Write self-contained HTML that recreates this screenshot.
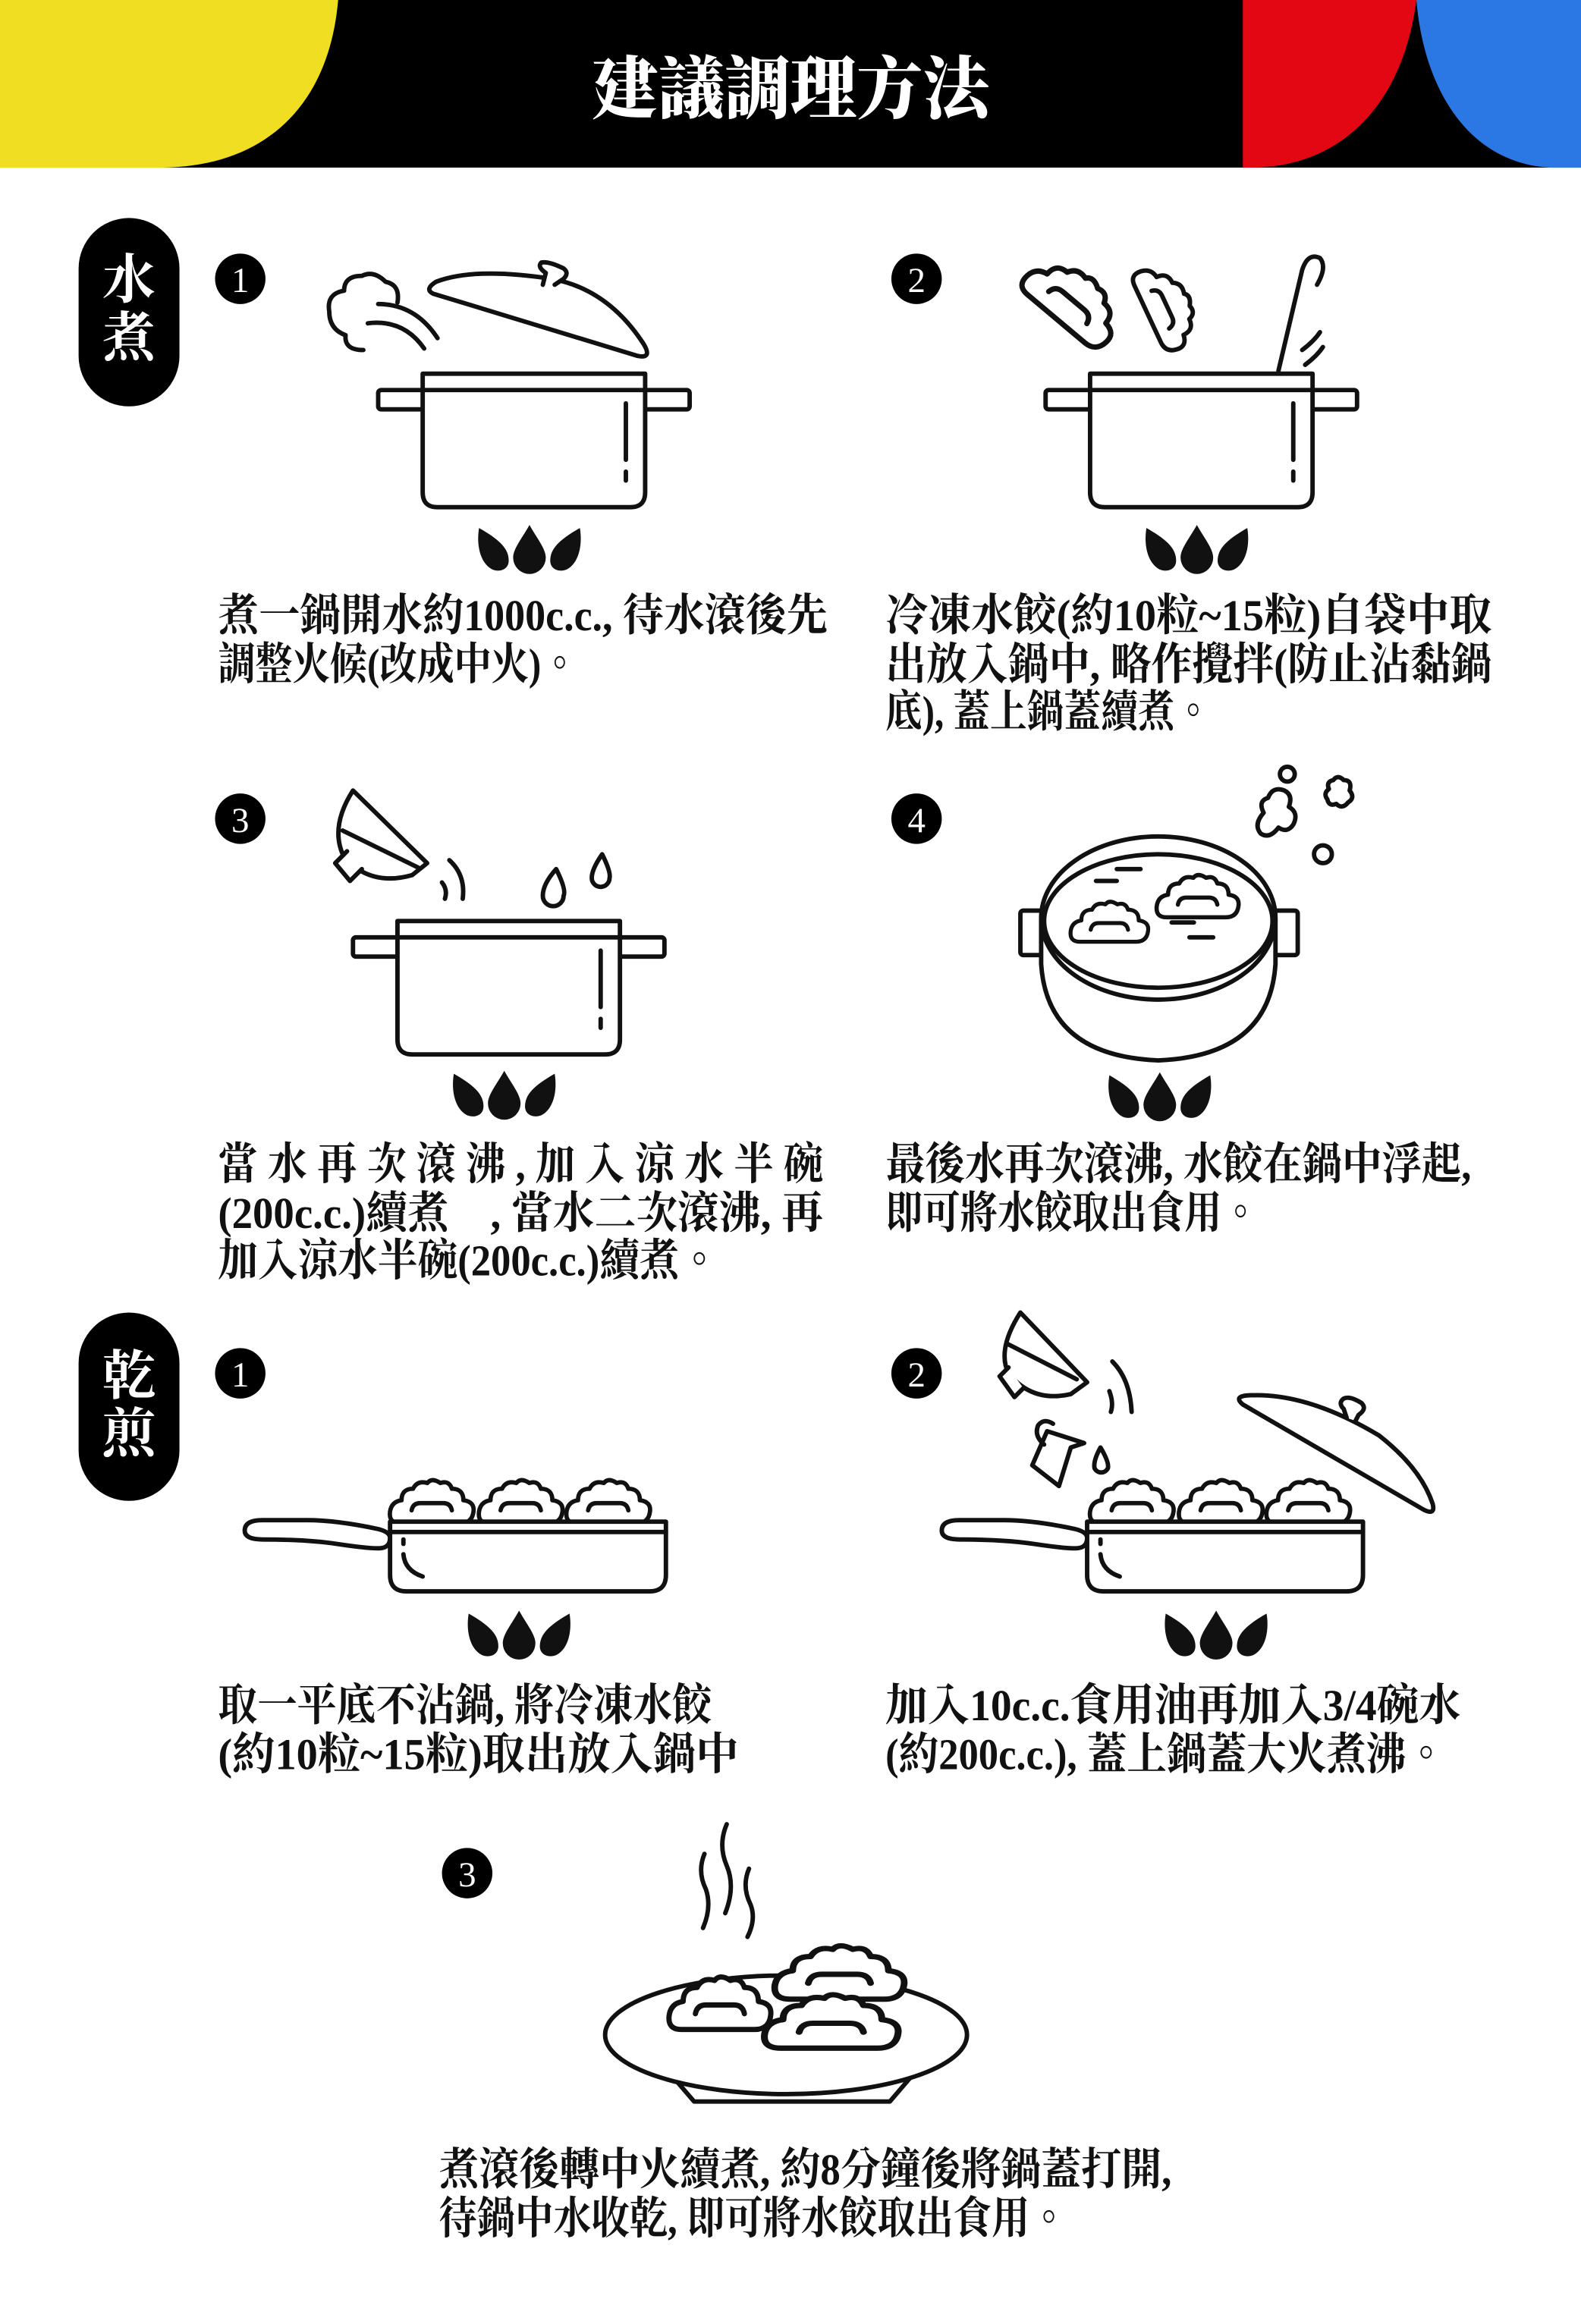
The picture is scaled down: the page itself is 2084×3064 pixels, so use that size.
<!DOCTYPE html>
<html><head><meta charset="utf-8"><style>
html,body{margin:0;padding:0;background:#fff;}
svg{display:block;}
.t{font-family:"Liberation Serif","Noto Serif CJK TC","Noto Serif CJK SC",serif;font-weight:bold;font-size:30px;fill:#111;}
.n{font-family:"Liberation Serif",serif;font-size:24px;fill:#fff;text-anchor:middle;}
.s{fill:none;stroke:#111;stroke-width:3;stroke-linecap:round;stroke-linejoin:round;}
.w{fill:#fff;stroke:#111;stroke-width:3;stroke-linecap:round;stroke-linejoin:round;}
</style></head><body>
<svg width="2084" height="3064" viewBox="0 0 1066 1567" preserveAspectRatio="none" xmlns="http://www.w3.org/2000/svg">
<defs>
<g id="dump">
<path class="w" d="M8,30 Q0,30 1,22 Q2,15 9,14 Q9,6 17,6 Q20,0 27,2 Q30,-2 36,2 Q42,0 44,6 Q52,6 52,14 Q60,15 59,22 Q58,30 50,30 Z"/>
<path class="s" d="M16,21 Q17,16 22,16 H38 Q43,16 44,21"/>
</g>
<g id="flame">
<path fill="#111" d="M-34,-12 C-20,-4 -14,2 -14,10 C-14,16 -20,18 -25,16 C-33,12 -36,0 -34,-12Z"/>
<path fill="#111" d="M0,-14 C5,-5 11,2 11,8 A11,11 0 0 1 -11,8 C-11,2 -5,-5 0,-14Z"/>
<path fill="#111" d="M34,-12 C20,-4 14,2 14,10 C14,16 20,18 25,16 C33,12 36,0 34,-12Z"/>
</g>
<g id="pot">
<rect class="w" x="0" y="11" width="210" height="13" rx="2"/>
<path class="w" d="M30,0 H180 V80 Q180,90 170,90 H40 Q30,90 30,80 Z"/>
<line class="s" x1="30" y1="11" x2="180" y2="11"/>
<line class="s" x1="167" y1="20" x2="167" y2="58"/>
<line class="s" x1="167" y1="66" x2="167" y2="72"/>
</g>
<g id="pan">
<path class="w" d="M10,-1 Q-2,-1 -2,6 Q-2,12 10,12 Q40,12 60,15 Q80,18 88,18 Q96,18 96,11 Q96,7 88,5 Q60,-1 40,-1 Z"/>
<path class="w" d="M96,0 H282 V36 Q282,47 271,47 H107 Q96,47 96,36 Z"/>
<line class="s" x1="96" y1="7" x2="282" y2="7"/>
<line class="s" x1="105" y1="12" x2="105" y2="15"/>
<path class="s" d="M105,22 Q106,33 118,37"/>
</g>
</defs>

<!-- header -->
<rect x="0" y="0" width="1066" height="113" fill="#000"/>
<path d="M0,0 H228 C222,70 180,112 110,113 H0 Z" fill="#f0de23"/>
<path d="M838,0 H955 C946,70 905,112 845,113 H838 Z" fill="#e30613"/>
<path d="M955,0 H1066 V113 H1045 C990,110 960,60 955,0 Z" fill="#2b78e4"/>
<text x="533" y="76" text-anchor="middle" textLength="268" lengthAdjust="spacingAndGlyphs" style="font-family:'Noto Serif CJK TC','Noto Serif CJK SC',serif;font-weight:900;font-size:46px;fill:#fff;">建議調理方法</text>

<!-- pills -->
<rect x="53" y="147" width="68" height="127" rx="34" fill="#000"/>
<text x="87" y="201" text-anchor="middle" style="font-family:'Noto Serif CJK TC',serif;font-weight:bold;font-size:36px;fill:#fff;">水</text>
<text x="87" y="240" text-anchor="middle" style="font-family:'Noto Serif CJK TC',serif;font-weight:bold;font-size:36px;fill:#fff;">煮</text>
<rect x="53" y="885" width="68" height="127" rx="34" fill="#000"/>
<text x="87" y="940" text-anchor="middle" style="font-family:'Noto Serif CJK TC',serif;font-weight:bold;font-size:36px;fill:#fff;">乾</text>
<text x="87" y="979" text-anchor="middle" style="font-family:'Noto Serif CJK TC',serif;font-weight:bold;font-size:36px;fill:#fff;">煎</text>

<!-- number circles -->
<g>
<circle cx="162" cy="188" r="17" fill="#000"/><text class="n" x="162" y="197">1</text>
<circle cx="618" cy="188" r="17" fill="#000"/><text class="n" x="618" y="197">2</text>
<circle cx="162" cy="552" r="17" fill="#000"/><text class="n" x="162" y="561">3</text>
<circle cx="618" cy="552" r="17" fill="#000"/><text class="n" x="618" y="561">4</text>
<circle cx="162" cy="926" r="17" fill="#000"/><text class="n" x="162" y="935">1</text>
<circle cx="618" cy="926" r="17" fill="#000"/><text class="n" x="618" y="935">2</text>
<circle cx="315" cy="1263" r="17" fill="#000"/><text class="n" x="315" y="1272">3</text>
</g>

<!-- step 1 -->
<use href="#pot" x="255" y="252"/>
<use href="#flame" x="357" y="368"/>
<path class="w" d="M292,198 L430,240 Q440,242 434,232 Q410,195 372,188 Q320,180 294,190 Q286,195 292,198Z"/>
<path class="w" d="M366,192 L368,184 Q362,180 365,177 Q370,176 380,181 Q384,184 380,188 L374,192"/>
<path class="s" d="M245,236 Q232,236 233,226 Q222,222 222,210 Q220,198 232,196 Q232,186 244,186 Q252,182 260,190 Q270,192 268,204"/>
<path class="s" d="M248,218 Q272,215 286,235 M255,205 Q280,205 295,228"/>

<!-- step 2 -->
<use href="#pot" x="705" y="252"/>
<use href="#flame" x="807" y="368"/>
<g transform="translate(690,180) rotate(40 30 18) scale(1.2)"><use href="#dump"/></g>
<g transform="translate(758,185) rotate(65 25 18) scale(1.0)"><use href="#dump"/></g>
<path class="s" d="M862,250 L878,182 Q882,170 890,174 Q895,180 888,192"/>
<path class="s" d="M878,236 Q886,230 890,224 M880,246 Q888,240 892,234"/>

<!-- step 3 -->
<use href="#pot" x="238" y="621"/>
<use href="#flame" x="340" y="736"/>
<path class="w" d="M238,533 Q222,558 232,578 Q250,598 278,590 L288,582 Z"/>
<line class="s" x1="231" y1="560" x2="282" y2="585"/>
<path class="w" d="M234,574 L226,582 L236,594 L244,586"/>
<path class="s" d="M303,580 Q314,590 312,606 M298,595 Q302,600 300,606"/>
<path class="w" d="M375,586 Q382,600 380,604 A7,7 0 0 1 366,604 Q366,596 375,586Z"/>
<path class="w" d="M406,576 Q412,588 411,592 A6,6 0 0 1 399,592 Q399,586 406,576Z"/>

<!-- step 4 -->
<rect class="w" x="688" y="614" width="16" height="30" rx="2"/>
<rect class="w" x="859" y="614" width="16" height="30" rx="2"/>
<path class="w" d="M702,620 V650 Q706,712 781,715 Q856,712 860,650 V620 Z"/>
<ellipse class="w" cx="781" cy="619" rx="79" ry="55"/>
<ellipse class="s" cx="781" cy="621" rx="77" ry="45"/>
<g transform="translate(721,608) scale(0.9)"><use href="#dump"/></g>
<g transform="translate(779,590) scale(0.95)"><use href="#dump"/></g>
<path class="s" d="M753,586 H769 M739,594 H753 M790,622 H805 M802,632 H818"/>
<circle class="s" cx="868" cy="522" r="5"/>
<circle class="s" cx="892" cy="576" r="6"/>
<path class="s" d="M852,548 Q848,540 855,538 Q858,530 866,533 Q872,536 869,544 Q876,548 872,556 Q868,562 862,558 Q856,566 850,562 Q845,556 852,548Z"/>
<path class="s" d="M896,532 Q894,527 899,526 Q902,522 906,526 Q912,526 910,533 Q914,538 909,541 Q905,546 901,542 Q896,544 895,539 Q892,535 896,532Z"/>
<use href="#flame" x="782" y="737"/>

<!-- dry 1 -->
<g transform="translate(262,998) scale(0.97)"><use href="#dump"/></g>
<g transform="translate(322,998) scale(0.97)"><use href="#dump"/></g>
<g transform="translate(381,998) scale(0.97)"><use href="#dump"/></g>
<use href="#pan" x="167" y="1026"/>
<use href="#flame" x="350" y="1100"/>

<!-- dry 2 -->
<g transform="translate(734,998) scale(0.97)"><use href="#dump"/></g>
<g transform="translate(794,998) scale(0.97)"><use href="#dump"/></g>
<g transform="translate(853,998) scale(0.97)"><use href="#dump"/></g>
<use href="#pan" x="637" y="1026"/>
<use href="#flame" x="820" y="1100"/>
<path class="w" d="M838,947 Q832,942 840,941 Q880,938 930,968 Q958,990 966,1014 Q968,1022 960,1018 Z"/>
<path class="w" d="M908,956 L906,950 Q902,946 906,943 Q910,941 918,946 Q922,950 916,954 L914,958"/>
<path class="w" d="M688,885 Q672,910 680,926 Q696,946 722,940 L733,932 Z"/>
<line class="s" x1="679" y1="906" x2="726" y2="930"/>
<path class="w" d="M680,922 L674,928 L684,942 L690,936"/>
<path class="s" d="M750,918 Q762,930 763,952 M748,938 Q751,946 749,952"/>
<path class="w" d="M706,965 L696,988 L714,1002 L722,976 L731,973 Z"/>
<path class="s" d="M704,974 Q697,968 700,961 Q704,956 710,960"/>
<path class="w" d="M742,976 Q748,986 747,990 A5,5 0 0 1 738,990 Q737,985 742,976Z"/>

<!-- dry 3 plate -->
<path class="w" d="M450,1396 L468,1417 H600 L618,1396"/>
<ellipse class="w" cx="530" cy="1372" rx="122" ry="40"/>
<g transform="translate(450,1333) scale(1.18)"><use href="#dump"/></g>
<g transform="translate(521,1312) scale(1.5 1.2)"><use href="#dump"/></g>
<g transform="translate(514,1345) scale(1.55 1.2)"><use href="#dump"/></g>
<path class="s" d="M475,1250 Q470,1262 476,1274 Q480,1286 474,1300 M490,1230 Q484,1244 490,1258 Q496,1272 489,1290 M505,1260 Q500,1272 506,1284 Q510,1294 504,1306"/>

<!-- texts -->
<text class="t" x="147" y="425" textLength="411" lengthAdjust="spacingAndGlyphs">煮一鍋開水約1000c.c., 待水滾後先</text>
<text class="t" x="147" y="458" textLength="243" lengthAdjust="spacingAndGlyphs">調整火候(改成中火)。</text>

<text class="t" x="597" y="425" textLength="409" lengthAdjust="spacingAndGlyphs">冷凍水餃(約10粒~15粒)自袋中取</text>
<text class="t" x="597" y="458" textLength="409" lengthAdjust="spacingAndGlyphs">出放入鍋中, 略作攪拌(防止沾黏鍋</text>
<text class="t" x="597" y="490" textLength="220" lengthAdjust="spacingAndGlyphs">底), 蓋上鍋蓋續煮。</text>

<text class="t" x="147" y="795" textLength="408" lengthAdjust="spacingAndGlyphs">當 水 再 次 滾 沸 , 加 入 涼 水 半 碗</text>
<text class="t" x="147" y="828" textLength="408" lengthAdjust="spacingAndGlyphs">(200c.c.)續煮　, 當水二次滾沸, 再</text>
<text class="t" x="147" y="860" textLength="338" lengthAdjust="spacingAndGlyphs">加入涼水半碗(200c.c.)續煮。</text>

<text class="t" x="597" y="795" textLength="395" lengthAdjust="spacingAndGlyphs">最後水再次滾沸, 水餃在鍋中浮起,</text>
<text class="t" x="597" y="828" textLength="252" lengthAdjust="spacingAndGlyphs">即可將水餃取出食用。</text>

<text class="t" x="147" y="1160" textLength="333" lengthAdjust="spacingAndGlyphs">取一平底不沾鍋, 將冷凍水餃</text>
<text class="t" x="147" y="1193" textLength="351" lengthAdjust="spacingAndGlyphs">(約10粒~15粒)取出放入鍋中</text>

<text class="t" x="597" y="1160" textLength="388" lengthAdjust="spacingAndGlyphs">加入10c.c.食用油再加入3/4碗水</text>
<text class="t" x="597" y="1193" textLength="378" lengthAdjust="spacingAndGlyphs">(約200c.c.), 蓋上鍋蓋大火煮沸。</text>

<text class="t" x="296" y="1473" textLength="494" lengthAdjust="spacingAndGlyphs">煮滾後轉中火續煮, 約8分鐘後將鍋蓋打開,</text>
<text class="t" x="296" y="1506" textLength="424" lengthAdjust="spacingAndGlyphs">待鍋中水收乾, 即可將水餃取出食用。</text>
</svg>
</body></html>
